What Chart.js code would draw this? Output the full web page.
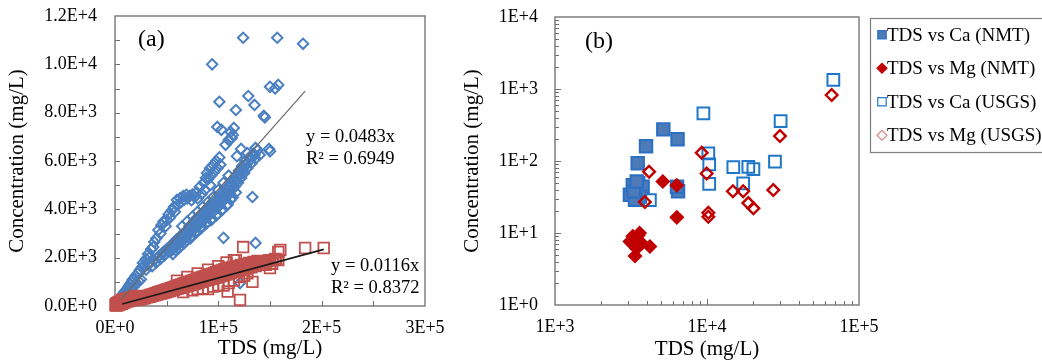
<!DOCTYPE html>
<html><head><meta charset="utf-8">
<script src="https://cdn.jsdelivr.net/npm/chart.js@4.4.1/dist/chart.umd.min.js"></script>
<style>
html,body{margin:0;padding:0;background:#fff;width:1042px;height:362px;overflow:hidden}
#wa{position:absolute;left:0;top:0;width:480px;height:362px}
#wb{position:absolute;left:440px;top:0;width:602px;height:362px}
</style></head><body>
<div id="wa"><canvas id="ca"></canvas></div>
<div id="wb"><canvas id="cb"></canvas></div>
<script>
// ================= Panel (a) data : [TDS (mg/L), concentration (mg/L)] =================
const caPointsA = [
 [1500,80],[2500,200],[3000,120],[3500,260],[4000,180],[4500,300],[5000,220],[5500,360],[6000,250],[6500,420],
 [7000,300],[7500,480],[8000,350],[8500,530],[9000,400],[9500,600],[10000,450],[10500,650],[11000,500],[12000,720],
 [12500,560],[13000,800],[14000,620],[14500,900],[15000,680],[16000,980],[16500,740],[17000,1080],[18000,800],[18500,1150],
 [19000,870],[20000,1250],[21000,940],[22000,1350],[23000,1020],[24000,1480],[25000,1100],[26000,1600],
 [27000,1780],[28000,1650],[30000,1950],[32000,2150],[33000,2000],[35000,2350],[37000,2440],[38000,2650],[40000,2800],[42000,3150],
 [44000,3000],[45000,3350],[47000,3500],[49000,3300],[50000,3560],[52000,3800],[53000,3650],[55000,3950],[57000,4100],[58000,3900],
 [60000,4390],[61000,4200],[63000,4450],[64000,4300],[66000,4550],[67000,4400],[69000,4600],[70000,4450],[72000,4550],[74000,4380],
 [75000,4620],[77000,4500],[79000,4700],[80000,4450],[82000,4930],[84000,4650],[86000,5100],[87000,4800],[89000,5500],[90000,5250],
 [92000,5700],[93000,5400],[95000,5840],[96000,5550],[98000,6000],[99000,5700],[101000,6150],[102000,5850],
 [30000,1500],[32000,1700],[34000,1780],[36000,1650],[38000,1900],[40000,1800],[42000,2050],[44000,1950],[46000,2200],[48000,2100],
 [50000,2350],[52000,2250],[54000,2450],[55000,2300],[57000,2600],[58000,2450],[60000,2700],[61000,2550],[63000,2800],[64000,2650],
 [65000,2950],[66000,2750],[68000,3000],[69000,2850],[70000,3150],[71000,2950],[72000,3300],[73000,3050],[75000,3400],[76000,3150],
 [77000,3550],[78000,3250],[80000,3600],[81000,3350],[82000,3750],[83000,3450],[85000,3800],[86000,3550],[87000,3950],[88000,3650],
 [90000,4000],[91000,3750],[92000,4150],[93000,3850],[95000,4200],[96000,3950],[97000,4350],[98000,4050],[100000,4450],[101000,4150],
 [102000,4600],[103000,4300],[105000,4700],[106000,4400],[107000,4850],[108000,4550],[110000,4950],[111000,4650],[112000,5100],[113000,4800],
 [115000,5250],[116000,4950],[118000,5400],[119000,5100],[120000,5600],[122000,5300],[123000,5800],[125000,5500],[126000,6000],[128000,5700],
 [130000,6150],[132000,5900],[134000,6300],[136000,6100],[138000,6450],[140000,6250],
 [45500,2150],[47500,2250],[49500,2300],[51500,2400],[53500,2450],[55500,2550],[57500,2650],[59500,2750],[61500,2700],[63500,2900],
 [65500,2850],[67500,3050],[69500,3000],[71500,3150],[73500,3200],[75500,3300],[77500,3350],[79500,3450],[81500,3550],[83500,3600],
 [85500,3700],[87500,3800],[89500,3850],[91500,3950],[93500,4050],[95500,4100],[97500,4200],[99500,4300],[101500,4400],[103500,4500],
 [105500,4550],[107500,4700],[109500,4800],[111500,4900],[113500,5000],[115500,5100],[117500,5200],[119500,5350],[121500,5450],[124000,5650],
 [127000,5850],[131000,6050],[135000,6250],
 [56000,2150],[59000,2300],[62000,2400],[64000,2500],[67000,2600],[69000,2700],[73000,2800],[74000,2900],[78000,3050],[79000,3050],
 [83000,3200],[84000,3300],[88000,3400],[89000,3450],[93000,3550],[94000,3600],[98000,3750],[99000,3800],[103000,3950],[104000,4000],
 [108000,4150],[109000,4200],[112000,4400],[114000,4500],[117000,4700],
 [65000,3300],[70000,3500],[75000,3700],[80000,3900],[85000,4100],[90000,4300],[95000,4500],[100000,4800],[105000,5100],[110000,5400],
 [99000,7410],[103000,7290],[107000,6670],[110000,6870],[114000,7080],[115000,7370],[112000,7200],[113000,6950],[128000,6330],[136000,6540],
 [149000,6500],[150000,6400],[118000,6200],[122000,6500],
 [94000,10000],[124000,11100],[157000,11100],[182000,10850],[101000,8450],[129000,8690],[135000,8320],[117000,8110],[144000,7870],[145000,7800],
 [150000,9070],[158000,9150],[155000,9000],[133000,4510],[105000,2820],[136000,2610],[121000,950],[88000,5300],[92000,5000]
];
const mgPointsA = [
 [500,30],[1000,80],[1500,20],[2000,120],[2500,60],[3000,150],[3500,40],[4000,100],[4500,180],[5000,70],
 [5500,140],[6000,220],[6500,90],[7000,170],[7500,250],[8000,120],[8500,200],[9000,280],[9500,150],[10000,230],
 [11000,300],[12000,180],[13000,260],[14000,340],[15000,220],[16000,300],[17000,380],[18000,250],[19000,340],[20000,420],
 [21000,290],[22000,380],
 [23000,260],[24000,330],[25000,290],[26000,350],[27000,310],[28000,380],[29000,330],[30000,400],[31000,360],[32000,430],
 [33000,380],[34000,460],[35000,400],[36000,480],[37000,430],[38000,510],[39000,450],[40000,540],[41000,470],[42000,570],
 [43000,500],[44000,600],[45000,520],[46000,620],[47000,550],[48000,650],[49000,570],[50000,680],[51000,600],[52000,710],
 [53000,620],[54000,740],[55000,650],[56000,770],[57000,670],[58000,800],[59000,700],[60000,830],[61000,720],[62000,860],
 [63000,750],[64000,890],[65000,770],[66000,920],[67000,800],[68000,950],[69000,820],[70000,980],[71000,850],[72000,1010],
 [73000,870],[74000,1040],[75000,900],[76000,1070],[77000,920],[78000,1100],[79000,950],[80000,1130],[81000,970],[82000,1160],
 [83000,1000],[84000,1190],[85000,1020],[86000,1220],[87000,1050],[88000,1250],[89000,1070],[90000,1280],[91000,1100],[92000,1310],
 [93000,1120],[94000,1340],[95000,1150],[96000,1370],[97000,1170],[98000,1400],[99000,1200],[100000,1430],[101000,1220],[102000,1460],
 [103000,1250],[104000,1490],[105000,1270],[106000,1520],[107000,1300],[108000,1550],[109000,1320],[110000,1580],[112000,1350],[114000,1620],
 [116000,1400],[118000,1660],[120000,1450],[122000,1700],[124000,1500],[126000,1740],[128000,1550],[130000,1780],[132000,1600],[134000,1820],
 [136000,1650],[138000,1860],[140000,1700],[143000,1850],[146000,1700],[149000,1900],[152000,1750],[155000,1950],
 [24500,300],[26500,340],[28500,360],[30500,380],[32500,410],[34500,440],[36500,460],[38500,490],[40500,510],[42500,540],
 [44500,570],[46500,590],[48500,620],[50500,650],[52500,670],[54500,700],[56500,720],[58500,750],[60500,780],[62500,800],
 [64500,830],[66500,860],[68500,880],[70500,910],[72500,940],[74500,960],[76500,990],[78500,1010],[80500,1040],[82500,1070],
 [84500,1090],[86500,1120],[88500,1150],[90500,1170],[92500,1200],[94500,1230],[96500,1250],[98500,1280],[100500,1300],[102500,1330],
 [104500,1360],[106500,1380],[108500,1410],[110500,1440],[112500,1470],[114500,1490],[116500,1520],[118500,1550],[120500,1570],[122500,1600],
 [124500,1630],[126500,1650],[128500,1680],[130500,1700],[133000,1730],[135500,1760],[137500,1780],[141000,1800],[144000,1830],[147000,1850],
 [150000,1880],[153000,1900],[156000,1930],
 [60000,1050],[70000,1200],[80000,1350],[90000,1500],[100000,1650],[108000,1800],[115000,1900],
 [66000,580],[75000,650],[85000,720],[95000,800],[105000,850],[109000,600],[115000,1050],[125000,1250],
 [117000,1900],[124000,2440],[158000,2240],[160000,2320],[158000,1900],[150000,1570],[184000,2400],[202000,2400],
 [121000,250],[133000,1000],[90000,700],[100000,850],[110000,950],[80000,700],[120000,1200],[128000,1350]
];
const caSlopeA = 0.0483, mgSlopeA = 0.0116;
const caTrendRangeA = [6000, 184000];
const mgTrendRangeA = [7000, 202000];
const caEquationA = ['y = 0.0483x', 'R\u00B2 = 0.6949'];
const mgEquationA = ['y = 0.0116x', 'R\u00B2 = 0.8372'];
const xTickValuesA = [0, 100000, 200000, 300000];
const xTickLabelsA = ['0E+0', '1E+5', '2E+5', '3E+5'];
const yTickValuesA = [0, 2000, 4000, 6000, 8000, 10000, 12000];
const yTickLabelsA = ['0.0E+0', '2.0E+3', '4.0E+3', '6.0E+3', '8.0E+3', '1.0E+4', '1.2E+4'];
const xMarksA = [50000, 100000, 150000, 200000, 250000];
const yMarksA = [1000,2000,3000,4000,5000,6000,7000,8000,9000,10000,11000];

// ================= Panel (b) data =================
const seriesNamesB = ['TDS vs Ca (NMT)', 'TDS vs Mg (NMT)', 'TDS vs Ca (USGS)', 'TDS vs Mg (USGS)'];
const caNMT = [[3500,93],[3970,160],[5160,275],[6400,200],[6450,38],[6350,44],[3110,34],[3250,46],[3530,49],[3770,44],[3620,32],[3360,29],[3300,38],[3450,52]];
const mgNMT = [[3110,7.6],[3360,8.0],[3530,7.8],[3720,7.2],[3440,6.1],[3360,4.8],[4210,6.5],[3530,9.3],[3250,9.0],[3600,10],[5120,52],[6330,46],[6330,16.5]];
const caUSGS = [[4210,28.7],[9470,459],[10200,128],[10340,90],[10340,48],[14900,82],[18700,83],[20200,77],[17300,49],[28000,98],[30500,359],[67800,1334]];
const mgUSGS = [[4160,71],[3900,27],[9230,130],[9950,67],[10200,19.1],[10200,16.8],[14800,38],[17300,38],[18700,26],[20200,22],[27300,39.5],[30200,222],[66100,826]];
const xTickValuesB = [1000, 10000, 100000];
const xTickLabelsB = ['1E+3', '1E+4', '1E+5'];
const yTickValuesB = [1, 10, 100, 1000, 10000];
const yTickLabelsB = ['1E+0', '1E+1', '1E+2', '1E+3', '1E+4'];
const logMinorMultipliers = [2, 3, 4, 5, 6, 7, 8, 9];

// ================= helpers =================
const SERIF = '"Liberation Serif", "Times New Roman", serif';
Chart.defaults.font.family = SERIF;
Chart.defaults.color = '#000';
const toXY = arr => arr.map(p => ({x: p[0], y: p[1]}));
const labelFrom = (vals, labs) => v => { const i = vals.findIndex(t => Math.abs(t - v) < 1e-6 * Math.max(1, t)); return i >= 0 ? labs[i] : ''; };
const setTicks = vals => s => { s.ticks = vals.map(v => ({value: v})); };
const fixBox = (w, h) => s => {
  if (w !== null) s.width = w;
  if (h !== null) s.height = h;
  s.paddingLeft = 0; s.paddingRight = 0; s.paddingTop = 0; s.paddingBottom = 0;
};

function frameTicks(id, xMarks, yMarks) {
  return {
    id: id,
    beforeDatasetsDraw(chart) {
      const {ctx, chartArea: a, scales} = chart;
      ctx.save();
      ctx.strokeStyle = '#7f7f7f';
      ctx.lineWidth = 1.5;
      ctx.strokeRect(a.left, a.top, a.right - a.left, a.bottom - a.top);
      ctx.lineWidth = 1;
      ctx.strokeStyle = '#6f6f6f';
      xMarks.forEach(m => {
        const px = Math.round(scales.x.getPixelForValue(m.v)) + 0.5;
        ctx.beginPath(); ctx.moveTo(px, a.bottom); ctx.lineTo(px, a.bottom - m.len); ctx.stroke();
      });
      yMarks.forEach(m => {
        const py = Math.round(scales.y.getPixelForValue(m.v)) + 0.5;
        ctx.beginPath(); ctx.moveTo(a.left, py); ctx.lineTo(a.left + m.len, py); ctx.stroke();
      });
      ctx.restore();
    }
  };
}

function drawMarker(ctx, style, x, y, r, fill, stroke, lw) {
  ctx.beginPath();
  if (style === 'rect') {
    ctx.rect(x - r, y - r, 2 * r, 2 * r);
  } else {
    ctx.moveTo(x - r, y); ctx.lineTo(x, y - r); ctx.lineTo(x + r, y); ctx.lineTo(x, y + r); ctx.closePath();
  }
  if (fill && fill !== 'rgba(0,0,0,0)') { ctx.fillStyle = fill; ctx.fill(); }
  ctx.lineWidth = lw; ctx.strokeStyle = stroke; ctx.stroke();
}

// ================= Chart (a) =================
const annotA = {
  id: 'annotA',
  afterDraw(chart) {
    const {ctx, chartArea: a} = chart;
    ctx.save();
    ctx.fillStyle = '#000';
    ctx.textBaseline = 'middle';
    ctx.textAlign = 'left';
    ctx.font = '24px ' + SERIF;
    ctx.fillText('(a)', a.left + 23, a.top + 24);
    ctx.font = '18.5px ' + SERIF;
    ctx.fillText(caEquationA[0], a.left + 191, a.top + 121);
    ctx.fillText(caEquationA[1], a.left + 191, a.top + 143);
    ctx.fillText(mgEquationA[0], a.left + 216, a.top + 250);
    ctx.fillText(mgEquationA[1], a.left + 216, a.top + 272);
    ctx.restore();
  }
};

new Chart(document.getElementById('ca'), {
  type: 'scatter',
  data: {
    datasets: [
      {label: 'Ca trend', type: 'line', order: 0, data: caTrendRangeA.map(x => ({x: x, y: caSlopeA * x})),
       borderColor: '#6a6a6a', borderWidth: 1.2, pointRadius: 0, showLine: true, fill: false, clip: false},
      {label: 'Mg trend', type: 'line', order: 0, data: mgTrendRangeA.map(x => ({x: x, y: mgSlopeA * x})),
       borderColor: '#1a1a1a', borderWidth: 1.6, pointRadius: 0, showLine: true, fill: false, clip: false},
      {label: 'TDS vs Mg', order: 1, data: toXY(mgPointsA), pointStyle: 'rect', pointRadius: 7.5,
       backgroundColor: 'rgba(0,0,0,0)', borderColor: '#C0504D', borderWidth: 1.8, clip: false},
      {label: 'TDS vs Ca', order: 2, data: toXY(caPointsA), pointStyle: 'rectRot', pointRadius: 5.2,
       backgroundColor: 'rgba(0,0,0,0)', borderColor: '#4A7FC1', borderWidth: 2, clip: false}
    ]
  },
  options: {
    responsive: true, maintainAspectRatio: false, animation: false, devicePixelRatio: 1,
    layout: {padding: {top: 16, right: 55, left: 0, bottom: 0}},
    plugins: {legend: {display: false}, tooltip: {enabled: false}},
    scales: {
      x: {type: 'linear', min: 0, max: 300000,
          afterBuildTicks: setTicks(xTickValuesA),
          afterFit: fixBox(null, 56),
          grid: {display: false, drawTicks: false}, border: {display: false},
          ticks: {callback: labelFrom(xTickValuesA, xTickLabelsA), padding: 11, autoSkip: false, maxRotation: 0, font: {size: 18}, color: '#000'},
          title: {display: true, text: 'TDS (mg/L)', font: {size: 21}, color: '#000', padding: {top: 0, bottom: 1}}},
      y: {type: 'linear', min: 0, max: 12000,
          afterBuildTicks: setTicks(yTickValuesA),
          afterFit: fixBox(115, null),
          grid: {display: false, drawTicks: false}, border: {display: false},
          ticks: {callback: labelFrom(yTickValuesA, yTickLabelsA), padding: 18, autoSkip: false, font: {size: 18}, color: '#000'},
          title: {display: true, text: 'Concentration (mg/L)', font: {size: 21}, color: '#000', padding: {top: 5, bottom: 0}}}
    }
  },
  plugins: [frameTicks('frameA', xMarksA.map(v => ({v: v, len: 5})), yMarksA.map(v => ({v: v, len: 5}))), annotA]
});

// ================= Chart (b) =================
const xMarksB = [], yMarksB = [];
[1000, 10000].forEach(d => logMinorMultipliers.forEach(m => xMarksB.push({v: d * m, len: 4})));
xMarksB.push({v: 10000, len: 6});
[1, 10, 100, 1000].forEach(d => logMinorMultipliers.forEach(m => yMarksB.push({v: d * m, len: 4})));
[10, 100, 1000].forEach(v => yMarksB.push({v: v, len: 6}));

const legendB = {
  id: 'legendB',
  afterDraw(chart) {
    const {ctx, chartArea: a} = chart;
    const bx = a.right + 11, by = a.top + 1, bh = 134;
    ctx.save();
    ctx.strokeStyle = '#7f7f7f'; ctx.lineWidth = 1.2;
    ctx.strokeRect(bx + 0.5, by + 0.5, 300, bh);
    const rowH = bh / 4;
    chart.data.datasets.forEach((ds, i) => {
      const cy = by + rowH * (i + 0.5);
      const mx = bx + 12;
      drawMarker(ctx, ds.pointStyle, mx, cy, ds.pointStyle === 'rect' ? 4.2 : 5, ds.backgroundColor, ds.legendStroke || ds.borderColor, 1.2);
      ctx.fillStyle = '#000';
      ctx.font = '19px ' + SERIF;
      ctx.textBaseline = 'middle'; ctx.textAlign = 'left';
      ctx.fillText(ds.label, mx + 5, cy + 1);
    });
    ctx.restore();
  }
};
const annotB = {
  id: 'annotB',
  afterDraw(chart) {
    const {ctx, chartArea: a} = chart;
    ctx.save();
    ctx.fillStyle = '#000'; ctx.textBaseline = 'middle'; ctx.textAlign = 'left';
    ctx.font = '24px ' + SERIF;
    ctx.fillText('(b)', a.left + 30, a.top + 25);
    ctx.restore();
  }
};

new Chart(document.getElementById('cb'), {
  type: 'scatter',
  data: {
    datasets: [
      {label: seriesNamesB[0], order: 2, data: toXY(caNMT), pointStyle: 'rect', pointRadius: 8.8,
       backgroundColor: '#4C7BB8', borderColor: '#2C70C4', borderWidth: 2, clip: false},
      {label: seriesNamesB[1], order: 1, data: toXY(mgNMT), pointStyle: 'rectRot', pointRadius: 6.5,
       backgroundColor: '#C00000', borderColor: '#C00000', borderWidth: 1.5, clip: false},
      {label: seriesNamesB[2], order: 2, data: toXY(caUSGS), pointStyle: 'rect', pointRadius: 8.3,
       backgroundColor: 'rgba(0,0,0,0)', borderColor: '#1F77C8', borderWidth: 2, clip: false},
      {label: seriesNamesB[3], order: 1, data: toXY(mgUSGS), pointStyle: 'rectRot', pointRadius: 5.8,
       backgroundColor: 'rgba(0,0,0,0)', borderColor: '#C00000', legendStroke: '#D98A8A', borderWidth: 2.4, clip: false}
    ]
  },
  options: {
    responsive: true, maintainAspectRatio: false, animation: false, devicePixelRatio: 1,
    layout: {padding: {top: 17, right: 183, left: 0, bottom: 0}},
    plugins: {legend: {display: false}, tooltip: {enabled: false}},
    scales: {
      x: {type: 'logarithmic', min: 1000, max: 100000,
          afterBuildTicks: setTicks(xTickValuesB),
          afterFit: fixBox(null, 57),
          grid: {display: false, drawTicks: false}, border: {display: false},
          ticks: {callback: labelFrom(xTickValuesB, xTickLabelsB), padding: 11, autoSkip: false, maxRotation: 0, font: {size: 18}, color: '#000'},
          title: {display: true, text: 'TDS (mg/L)', font: {size: 21}, color: '#000', padding: {top: 0, bottom: 0}}},
      y: {type: 'logarithmic', min: 1, max: 10000,
          afterBuildTicks: setTicks(yTickValuesB),
          afterFit: fixBox(115, null),
          grid: {display: false, drawTicks: false}, border: {display: false},
          ticks: {callback: labelFrom(yTickValuesB, yTickLabelsB), padding: 17, autoSkip: false, font: {size: 18}, color: '#000'},
          title: {display: true, text: 'Concentration (mg/L)', font: {size: 21}, color: '#000', padding: {top: 20, bottom: 0}}}
    }
  },
  plugins: [frameTicks('frameB', xMarksB, yMarksB), legendB, annotB]
});
</script></body></html>
